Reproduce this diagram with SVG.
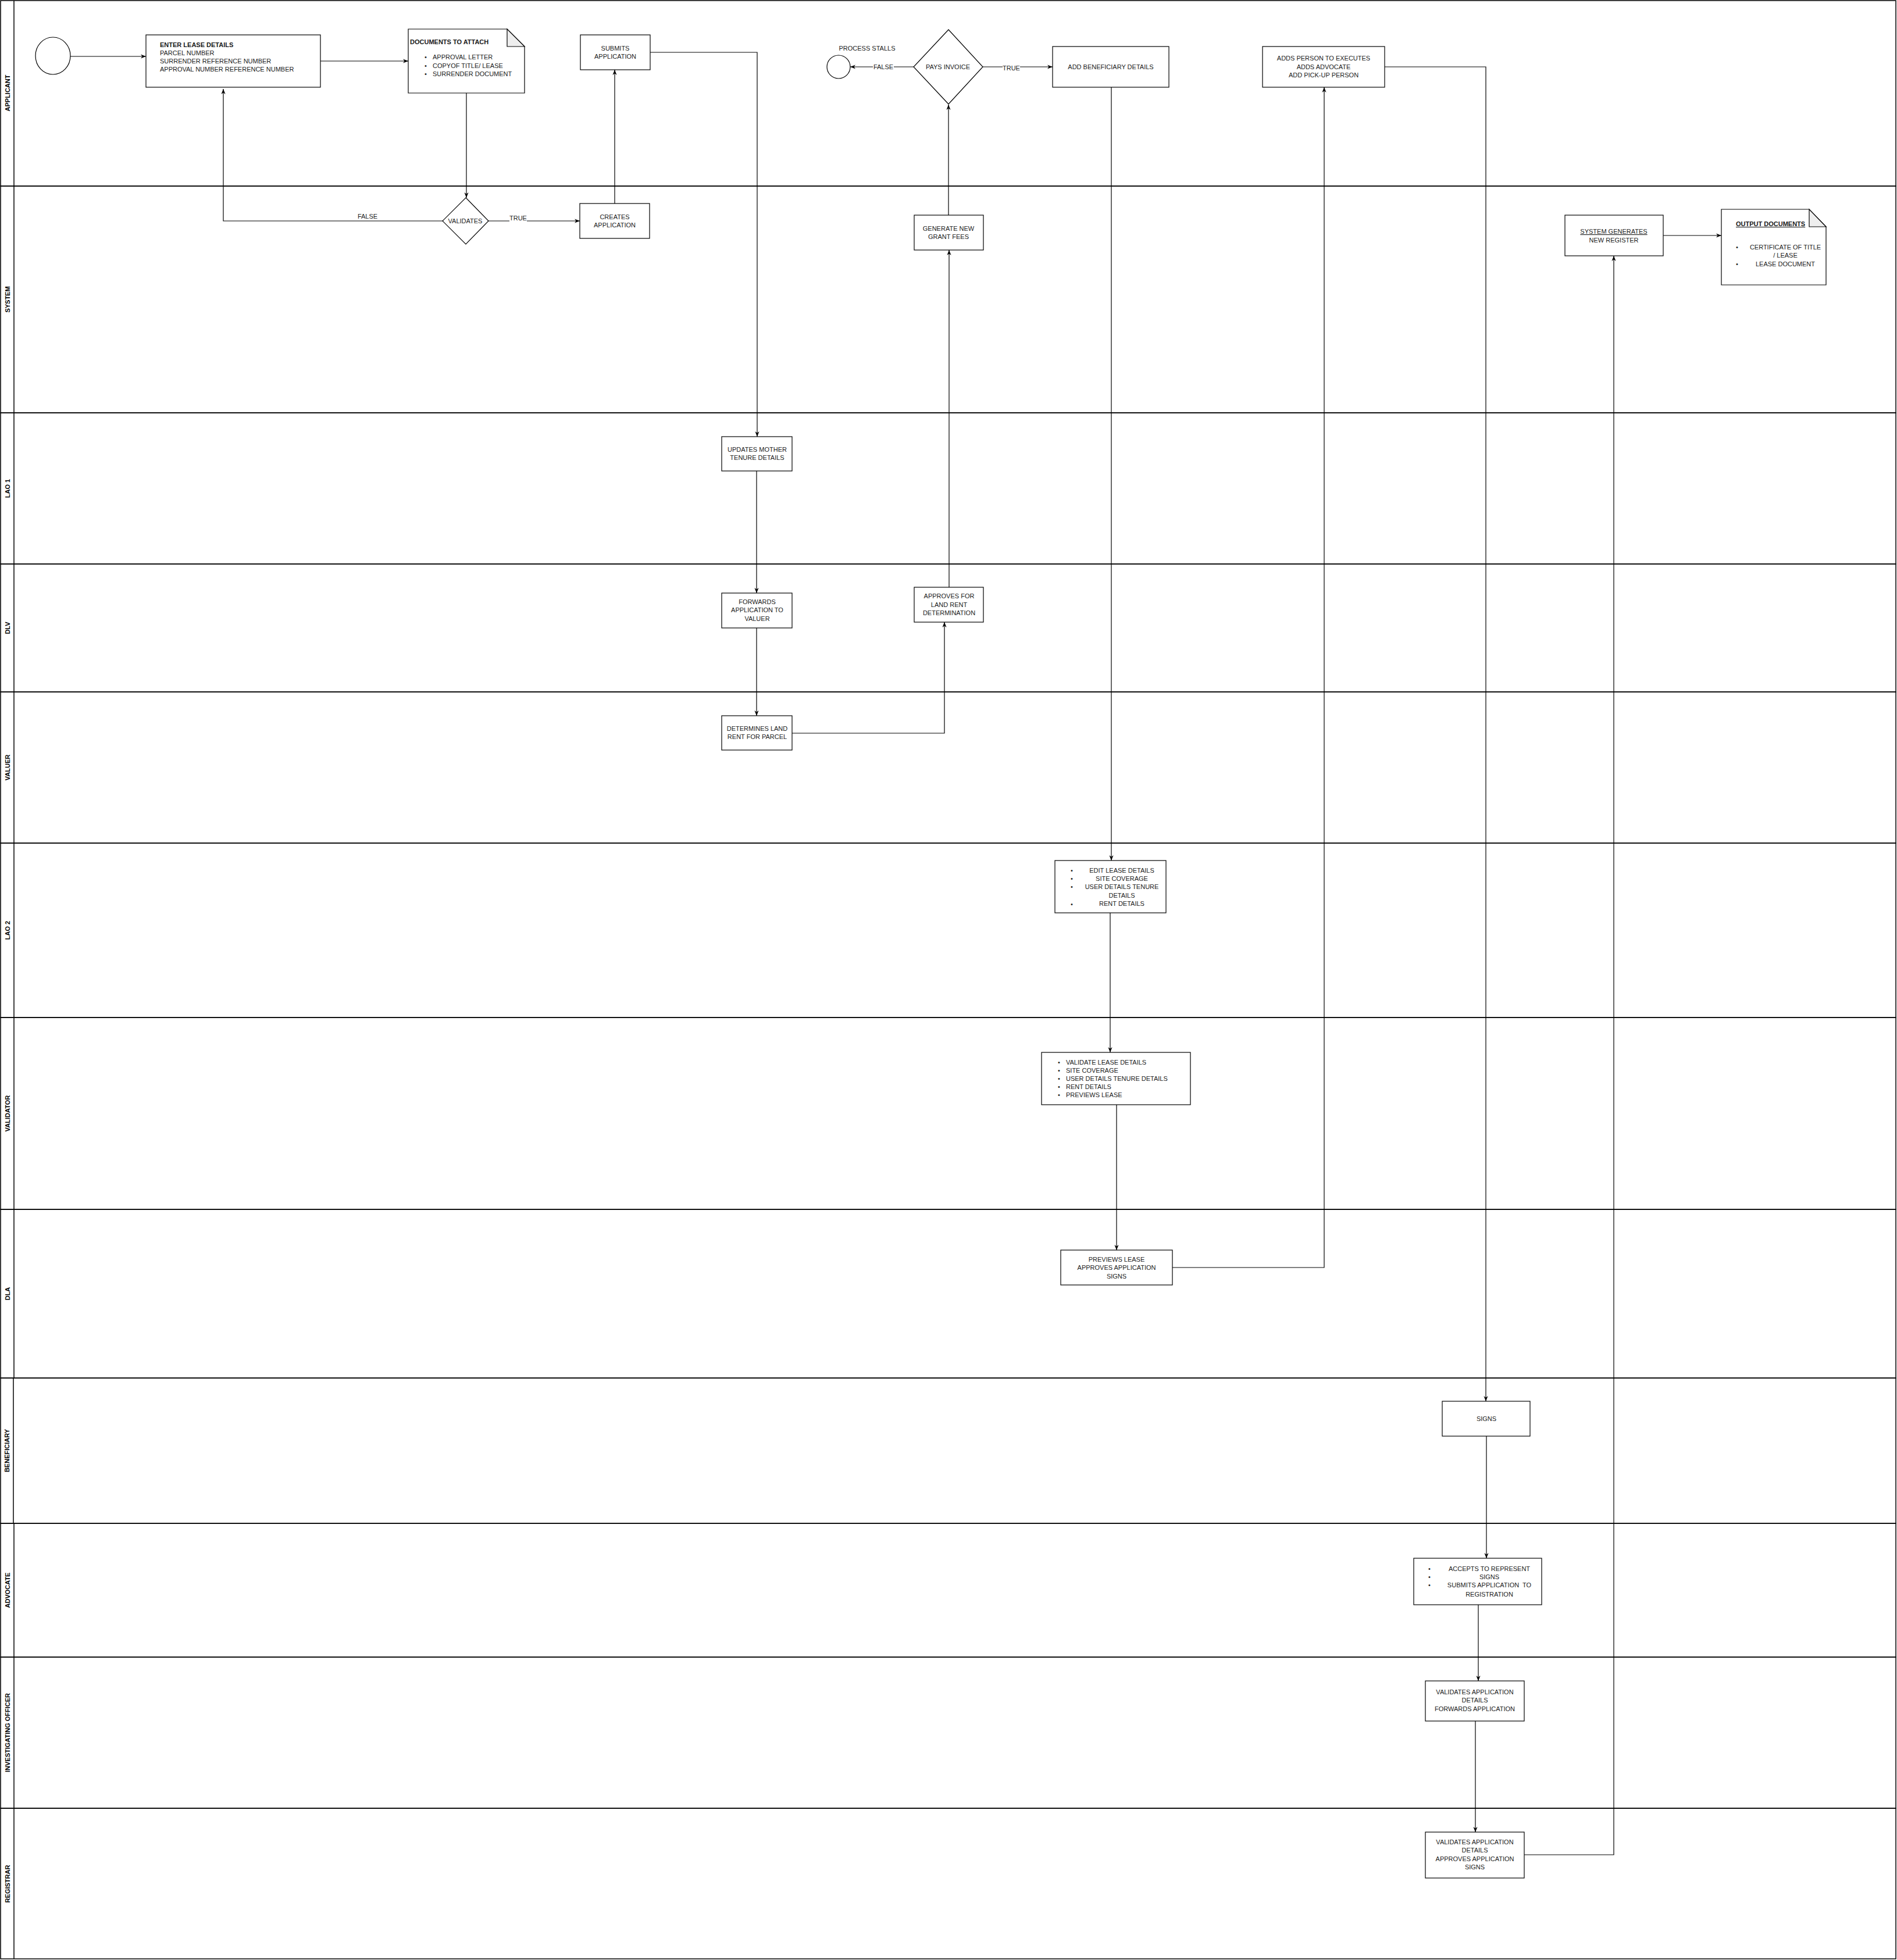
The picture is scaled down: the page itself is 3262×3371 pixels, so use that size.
<svg xmlns="http://www.w3.org/2000/svg" width="3262" height="3371" viewBox="0 0 3262 3371">
<style>
text{font-family:"Liberation Sans",Arial,Helvetica,sans-serif;font-size:11px;fill:#1a1a1a}
.c{text-anchor:middle}
.b{font-weight:bold}
.u{text-decoration:underline}
.lane{fill:none;stroke:#000;stroke-width:1.5}
.lbl{font-weight:bold;text-anchor:middle;fill:#000}
.n{fill:#fff;stroke:#000;stroke-width:1.2}
.e{fill:none;stroke:#000;stroke-width:1.2}
.el{fill:#fff}
</style>
<defs>
<marker id="arr" viewBox="0 0 10 10" refX="10" refY="5" markerWidth="9" markerHeight="9" markerUnits="userSpaceOnUse" orient="auto">
<path d="M0,1 L10,5 L0,9 L3,5 z" fill="#000"/>
</marker>
</defs>
<rect width="3262" height="3371" fill="#fff"/>
<g id="lanes">
<g id="lane-applicant"><rect class="lane" x="1" y="1" width="3259" height="319"/><line class="lane" x1="24" y1="1" x2="24" y2="320"/><text class="lbl" transform="translate(17,160) rotate(-90)">APPLICANT</text></g>
<g id="lane-system"><rect class="lane" x="1" y="320" width="3259" height="390"/><line class="lane" x1="24" y1="320" x2="24" y2="710"/><text class="lbl" transform="translate(17,515) rotate(-90)">SYSTEM</text></g>
<g id="lane-lao1"><rect class="lane" x="1" y="710" width="3259" height="260"/><line class="lane" x1="24" y1="710" x2="24" y2="970"/><text class="lbl" transform="translate(17,840) rotate(-90)">LAO 1</text></g>
<g id="lane-dlv"><rect class="lane" x="1" y="970" width="3259" height="220"/><line class="lane" x1="24" y1="970" x2="24" y2="1190"/><text class="lbl" transform="translate(17,1080) rotate(-90)">DLV</text></g>
<g id="lane-valuer"><rect class="lane" x="1" y="1190" width="3259" height="260"/><line class="lane" x1="24" y1="1190" x2="24" y2="1450"/><text class="lbl" transform="translate(17,1320) rotate(-90)">VALUER</text></g>
<g id="lane-lao2"><rect class="lane" x="1" y="1450" width="3259" height="300"/><line class="lane" x1="24" y1="1450" x2="24" y2="1750"/><text class="lbl" transform="translate(17,1600) rotate(-90)">LAO 2</text></g>
<g id="lane-validator"><rect class="lane" x="1" y="1750" width="3259" height="330"/><line class="lane" x1="24" y1="1750" x2="24" y2="2080"/><text class="lbl" transform="translate(17,1915) rotate(-90)">VALIDATOR</text></g>
<g id="lane-dla"><rect class="lane" x="1" y="2080" width="3259" height="290"/><line class="lane" x1="24" y1="2080" x2="24" y2="2370"/><text class="lbl" transform="translate(17,2225) rotate(-90)">DLA</text></g>
<g id="lane-beneficiary"><rect class="lane" x="1" y="2370" width="3259" height="250"/><line class="lane" x1="23" y1="2370" x2="23" y2="2620"/><text class="lbl" transform="translate(16,2495) rotate(-90)">BENEFICIARY</text></g>
<g id="lane-advocate"><rect class="lane" x="1" y="2620" width="3259" height="230"/><line class="lane" x1="24" y1="2620" x2="24" y2="2850"/><text class="lbl" transform="translate(17,2735) rotate(-90)">ADVOCATE</text></g>
<g id="lane-io"><rect class="lane" x="1" y="2850" width="3259" height="260"/><line class="lane" x1="24" y1="2850" x2="24" y2="3110"/><text class="lbl" transform="translate(17,2980) rotate(-90)">INVESTIGATING OFFICER</text></g>
<g id="lane-registrar"><rect class="lane" x="1" y="3110" width="3259" height="259"/><line class="lane" x1="24" y1="3110" x2="24" y2="3369"/><text class="lbl" transform="translate(17,3240) rotate(-90)">REGISTRAR</text></g>
</g>

<g id="connectors">
<path class="e" d="M121,97 H251" marker-end="url(#arr)"/>
<path class="e" d="M551,105 H702" marker-end="url(#arr)"/>
<path class="e" d="M802,160 V340" marker-end="url(#arr)"/>
<path class="e" d="M761,380 H384 V153" marker-end="url(#arr)"/>
<path class="e" d="M840,380 H997" marker-end="url(#arr)"/>
<path class="e" d="M1057,350 V120" marker-end="url(#arr)"/>
<path class="e" d="M1118,90 H1302 V751" marker-end="url(#arr)"/>
<path class="e" d="M1301,810 V1020" marker-end="url(#arr)"/>
<path class="e" d="M1301,1080 V1231" marker-end="url(#arr)"/>
<path class="e" d="M1362,1261 H1624 V1070" marker-end="url(#arr)"/>
<path class="e" d="M1632,1010 V430" marker-end="url(#arr)"/>
<path class="e" d="M1631,370 V180" marker-end="url(#arr)"/>
<path class="e" d="M1571,115 H1462" marker-end="url(#arr)"/>
<path class="e" d="M1690,115 H1810" marker-end="url(#arr)"/>
<path class="e" d="M1911,150 V1480" marker-end="url(#arr)"/>
<path class="e" d="M1909,1570 V1810" marker-end="url(#arr)"/>
<path class="e" d="M1920,1900 V2150" marker-end="url(#arr)"/>
<path class="e" d="M2016,2180 H2277 V150" marker-end="url(#arr)"/>
<path class="e" d="M2381,115 H2555 V2410" marker-end="url(#arr)"/>
<path class="e" d="M2556,2470 V2680" marker-end="url(#arr)"/>
<path class="e" d="M2542,2760 V2891" marker-end="url(#arr)"/>
<path class="e" d="M2537,2960 V3151" marker-end="url(#arr)"/>
<path class="e" d="M2621,3190 H2775 V440" marker-end="url(#arr)"/>
<path class="e" d="M2860,405 H2960" marker-end="url(#arr)"/>
<g id="edge-labels">
<rect class="el" x="614" y="366" width="36" height="12"/><text class="c" x="632" y="376">FALSE</text>
<rect class="el" x="876" y="369" width="30" height="12"/><text class="c" x="891" y="379">TRUE</text>
<rect class="el" x="1501" y="109" width="36" height="12"/><text class="c" x="1519" y="119">FALSE</text>
<rect class="el" x="1724" y="111" width="30" height="12"/><text class="c" x="1739" y="121">TRUE</text>
</g>
</g>

<g id="start"><ellipse class="n" cx="91" cy="96" rx="30" ry="32"/></g>
<g id="enter-lease">
<rect class="n" x="251" y="60" width="300" height="90"/>
<text class="b" x="275" y="81">ENTER LEASE DETAILS</text>
<text x="275" y="95">PARCEL NUMBER</text>
<text x="275" y="109">SURRENDER REFERENCE NUMBER</text>
<text x="275" y="123">APPROVAL NUMBER REFERENCE NUMBER</text>
</g>
<g id="documents-to-attach">
<path class="n" d="M702,50 H872 L902,80 V160 H702 Z"/>
<path d="M872,50 V80 H902 Z" fill="#eee" stroke="#000" stroke-width="1.2"/>
<text class="b" x="705" y="76">DOCUMENTS TO ATTACH</text>
<text x="730" y="102">•</text><text x="744" y="102">APPROVAL LETTER</text>
<text x="730" y="117">•</text><text x="744" y="117">COPYOF TITLE/ LEASE</text>
<text x="730" y="131">•</text><text x="744" y="131">SURRENDER DOCUMENT</text>
</g>
<g id="validates"><path class="n" d="M801,340 L840,380 L801,420 L761,380 Z"/><text class="c" x="800" y="384">VALIDATES</text></g>
<g id="creates-application"><rect class="n" x="997" y="350" width="120" height="60"/><text class="c" x="1057" y="377">CREATES</text><text class="c" x="1057" y="391">APPLICATION</text></g>
<g id="submits-application"><rect class="n" x="998" y="60" width="120" height="60"/><text class="c" x="1058" y="87">SUBMITS</text><text class="c" x="1058" y="101">APPLICATION</text></g>
<g id="process-stalls"><circle class="n" cx="1442" cy="115" r="20"/><text class="c" x="1491" y="87">PROCESS STALLS</text></g>
<g id="pays-invoice"><path class="n" d="M1631,51 L1690,115 L1631,179 L1571,115 Z"/><text class="c" x="1630" y="119">PAYS INVOICE</text></g>
<g id="add-beneficiary"><rect class="n" x="1810" y="80" width="200" height="70"/><text class="c" x="1910" y="119">ADD BENEFICIARY DETAILS</text></g>
<g id="generate-grant-fees"><rect class="n" x="1572" y="370" width="119" height="60"/><text class="c" x="1631" y="397">GENERATE NEW</text><text class="c" x="1631" y="411">GRANT FEES</text></g>
<g id="adds-person"><rect class="n" x="2171" y="80" width="210" height="70"/><text class="c" x="2276" y="104">ADDS PERSON TO EXECUTES</text><text class="c" x="2276" y="119">ADDS ADVOCATE</text><text class="c" x="2276" y="133">ADD PICK-UP PERSON</text></g>
<g id="system-generates"><rect class="n" x="2691" y="370" width="169" height="70"/><text class="c u" x="2775" y="402">SYSTEM GENERATES</text><text class="c" x="2775" y="417">NEW REGISTER</text></g>
<g id="output-documents">
<path class="n" d="M2960,360 H3111 L3140,390 V490 H2960 Z"/>
<path d="M3111,360 V390 H3140 Z" fill="#eee" stroke="#000" stroke-width="1.2"/>
<text class="b u" x="2985" y="389">OUTPUT DOCUMENTS</text>
<text x="2985" y="429">•</text><text class="c" x="3070" y="429">CERTIFICATE OF TITLE</text>
<text class="c" x="3070" y="443">/ LEASE</text>
<text x="2985" y="458">•</text><text class="c" x="3070" y="458">LEASE DOCUMENT</text>
</g>
<g id="updates-mother"><rect class="n" x="1241" y="751" width="121" height="59"/><text class="c" x="1302" y="777">UPDATES MOTHER</text><text class="c" x="1302" y="791">TENURE DETAILS</text></g>
<g id="forwards-valuer"><rect class="n" x="1241" y="1020" width="121" height="60"/><text class="c" x="1302" y="1039">FORWARDS</text><text class="c" x="1302" y="1053">APPLICATION TO</text><text class="c" x="1302" y="1068">VALUER</text></g>
<g id="determines-rent"><rect class="n" x="1241" y="1231" width="121" height="59"/><text class="c" x="1302" y="1257">DETERMINES LAND</text><text class="c" x="1302" y="1271">RENT FOR PARCEL</text></g>
<g id="approves-rent"><rect class="n" x="1572" y="1010" width="119" height="60"/><text class="c" x="1632" y="1029">APPROVES FOR</text><text class="c" x="1632" y="1044">LAND RENT</text><text class="c" x="1632" y="1058">DETERMINATION</text></g>
<g id="edit-lease">
<rect class="n" x="1814" y="1480" width="191" height="90"/>
<text x="1841" y="1501">•</text><text class="c" x="1929" y="1501">EDIT LEASE DETAILS</text>
<text x="1841" y="1515">•</text><text class="c" x="1929" y="1515">SITE COVERAGE</text>
<text x="1841" y="1529">•</text><text class="c" x="1929" y="1529">USER DETAILS TENURE</text>
<text class="c" x="1929" y="1544">DETAILS</text>
<text x="1841" y="1559">•</text><text class="c" x="1929" y="1558">RENT DETAILS</text>
</g>
<g id="validate-lease">
<rect class="n" x="1791" y="1810" width="256" height="90"/>
<text x="1819" y="1831">•</text><text x="1833" y="1831">VALIDATE LEASE DETAILS</text>
<text x="1819" y="1845">•</text><text x="1833" y="1845">SITE COVERAGE</text>
<text x="1819" y="1859">•</text><text x="1833" y="1859">USER DETAILS TENURE DETAILS</text>
<text x="1819" y="1873">•</text><text x="1833" y="1873">RENT DETAILS</text>
<text x="1819" y="1887">•</text><text x="1833" y="1887">PREVIEWS LEASE</text>
</g>
<g id="previews-lease"><rect class="n" x="1824" y="2150" width="192" height="60"/><text class="c" x="1920" y="2170">PREVIEWS LEASE</text><text class="c" x="1920" y="2184">APPROVES APPLICATION</text><text class="c" x="1920" y="2199">SIGNS</text></g>
<g id="signs"><rect class="n" x="2480" y="2410" width="151" height="60"/><text class="c" x="2556" y="2444">SIGNS</text></g>
<g id="accepts-represent">
<rect class="n" x="2431" y="2680" width="220" height="80"/>
<text x="2456" y="2702">•</text><text class="c" x="2561" y="2702">ACCEPTS TO REPRESENT</text>
<text x="2456" y="2716">•</text><text class="c" x="2561" y="2716">SIGNS</text>
<text x="2456" y="2730">•</text><text class="c" x="2561" y="2730" xml:space="preserve">SUBMITS APPLICATION  TO</text>
<text class="c" x="2561" y="2746">REGISTRATION</text>
</g>
<g id="io-validates"><rect class="n" x="2451" y="2891" width="170" height="69"/><text class="c" x="2536" y="2914">VALIDATES APPLICATION</text><text class="c" x="2536" y="2928">DETAILS</text><text class="c" x="2536" y="2943">FORWARDS APPLICATION</text></g>
<g id="registrar-validates"><rect class="n" x="2451" y="3151" width="170" height="79"/><text class="c" x="2536" y="3172">VALIDATES APPLICATION</text><text class="c" x="2536" y="3186">DETAILS</text><text class="c" x="2536" y="3201">APPROVES APPLICATION</text><text class="c" x="2536" y="3215">SIGNS</text></g>
</svg>
